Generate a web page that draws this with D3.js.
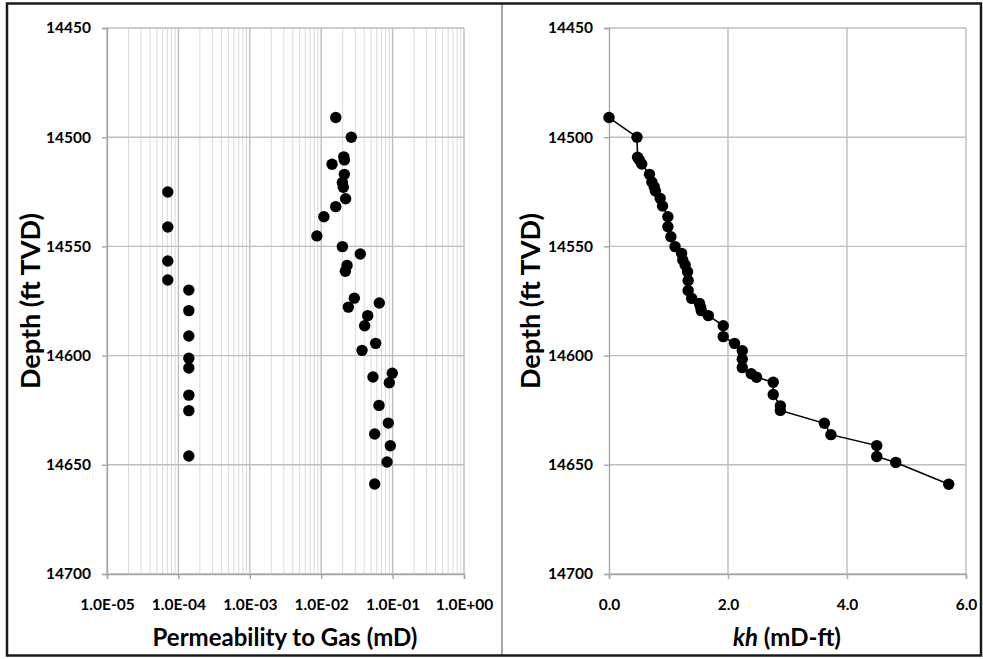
<!DOCTYPE html>
<html>
<head>
<meta charset="utf-8">
<script src="https://cdn.jsdelivr.net/npm/d3@7"></script>
<style>
  body { margin: 0; background: #fff; }
  text { font-family: Lato, "Liberation Sans", sans-serif; font-weight: bold; fill: #000; }
</style>
</head>
<body>
<script>
// depth of each core sample (ft TVD) and its gas permeability (mD)
var permDepth = [14491, 14500, 14509, 14510.4, 14512.4, 14517, 14520.7, 14522.9, 14528.2, 14531.8,
                 14536.4, 14545.2, 14550.1, 14553.5, 14558.7, 14561.4, 14573.7, 14577.8, 14575.9, 14581.7,
                 14586.3, 14594.4, 14597.6, 14609.8, 14608.1, 14612.4, 14622.8, 14630.9, 14635.9, 14641.3,
                 14648.7, 14658.8,
                 14525.1, 14541.1, 14556.7, 14565.4,
                 14570, 14579.4, 14591, 14601.2, 14605.7, 14618.1, 14625.2, 14646];
var permValue = [0.016, 0.0264, 0.0207, 0.0211, 0.0142, 0.0211, 0.0198, 0.0204, 0.022, 0.016,
                 0.0109, 0.0087, 0.0198, 0.0353, 0.023, 0.0218, 0.0291, 0.024, 0.0651, 0.0448,
                 0.0406, 0.0579, 0.0373, 0.0531, 0.099, 0.0899, 0.0645, 0.0871, 0.0561, 0.0929,
                 0.0835, 0.0561,
                 7.1e-5, 7.1e-5, 7.1e-5, 7.1e-5,
                 1.4e-4, 1.4e-4, 1.4e-4, 1.4e-4, 1.4e-4, 1.4e-4, 1.4e-4, 1.4e-4];

// cumulative kh (mD-ft) down the interval
var khDepth = [14491, 14500, 14509.2, 14510.4, 14512.3, 14517, 14520.5, 14522.7, 14524.6, 14528,
               14531.5, 14536.4, 14541, 14545.6, 14550.1, 14553.2, 14556.2, 14558.5, 14561.6, 14565.6,
               14570.2, 14573.8, 14576.1, 14577.9, 14579.4, 14581.7, 14586.3, 14591.3, 14594.4, 14597.8,
               14601.7, 14605.5, 14608.3, 14609.9, 14612.2, 14617.8, 14623, 14625.1, 14631, 14636.2,
               14641.2, 14646.2, 14648.9, 14658.9];
var khValue = [0, 0.47, 0.48, 0.51, 0.55, 0.68, 0.72, 0.76, 0.78, 0.86,
               0.9, 0.99, 0.99, 1.04, 1.11, 1.22, 1.24, 1.28, 1.32, 1.33,
               1.33, 1.39, 1.52, 1.54, 1.55, 1.67, 1.92, 1.92, 2.11, 2.24,
               2.24, 2.24, 2.39, 2.48, 2.76, 2.76, 2.88, 2.88, 3.62, 3.73,
               4.5, 4.5, 4.82, 5.71];

var depthTicks = [14450, 14500, 14550, 14600, 14650, 14700];
var permTicks = [1e-5, 1e-4, 1e-3, 1e-2, 1e-1, 1e0];
var khTicks = [0, 2, 4, 6];

var W = 983, H = 659;
var plotTop = 28, plotBottom = 574;

var svg = d3.select("body").append("svg")
    .attr("width", W)
    .attr("height", H);

// depth increases downward
var y = d3.scaleLinear().domain([14450, 14700]).range([plotTop, plotBottom]);

// ---------- left panel : permeability ----------
var xPerm = d3.scaleLog().domain([1e-5, 1]).range([107, 464]);
var left = svg.append("g");

// minor + major vertical grid
left.selectAll(".vgrid")
    .data(xPerm.ticks())
    .enter().append("line")
    .attr("x1", d => xPerm(d)).attr("x2", d => xPerm(d))
    .attr("y1", plotTop).attr("y2", plotBottom)
    .attr("stroke", d => Math.abs(Math.log10(d) % 1) < 1e-6 ? "#bdbdbd" : "#dadada")
    .attr("stroke-width", d => Math.abs(Math.log10(d) % 1) < 1e-6 ? 1.4 : 1);

drawPanel(left, xPerm, permTicks, function(d) {
  var e = Math.round(Math.log10(d));
  return "1.0E" + (e < 0 ? "-" : "+") + String(Math.abs(e)).padStart(2, "0");
});

left.selectAll(".dot")
    .data(permDepth)
    .enter().append("circle")
    .attr("cx", (d, i) => xPerm(permValue[i]))
    .attr("cy", d => y(d))
    .attr("r", 5.7)
    .attr("fill", "#000");

// ---------- right panel : kh ----------
var xKh = d3.scaleLinear().domain([0, 6]).range([609, 966]);
var right = svg.append("g");

right.selectAll(".vgrid")
    .data(khTicks.slice(1))
    .enter().append("line")
    .attr("x1", d => xKh(d)).attr("x2", d => xKh(d))
    .attr("y1", plotTop).attr("y2", plotBottom)
    .attr("stroke", "#bdbdbd")
    .attr("stroke-width", 1.4);

drawPanel(right, xKh, khTicks, d3.format(".1f"));

var pts = khDepth.map((d, i) => [xKh(khValue[i]), y(d)]);
right.append("path")
    .attr("d", d3.line()(pts))
    .attr("fill", "none")
    .attr("stroke", "#000")
    .attr("stroke-width", 1.6);

right.selectAll(".dot")
    .data(pts)
    .enter().append("circle")
    .attr("cx", d => d[0])
    .attr("cy", d => d[1])
    .attr("r", 5.7)
    .attr("fill", "#000");

// ---------- titles ----------
var mid = (plotTop + plotBottom) / 2;
svg.append("text")
    .attr("transform", "translate(40," + mid + ") rotate(-90)")
    .attr("text-anchor", "middle")
    .style("font-size", "27px")
    .text("Depth (ft TVD)");

svg.append("text")
    .attr("transform", "translate(540," + mid + ") rotate(-90)")
    .attr("text-anchor", "middle")
    .style("font-size", "27px")
    .text("Depth (ft TVD)");

svg.append("text")
    .attr("x", 285).attr("y", 646)
    .attr("text-anchor", "middle")
    .style("font-size", "24px")
    .text("Permeability to Gas (mD)");

var kt = svg.append("text")
    .attr("x", 787).attr("y", 646)
    .attr("text-anchor", "middle")
    .style("font-size", "24px");
kt.append("tspan").style("font-style", "italic").text("kh");
kt.append("tspan").text(" (mD-ft)");

// ---------- frame ----------
svg.append("line")
    .attr("x1", 502).attr("x2", 502)
    .attr("y1", 4).attr("y2", 656)
    .attr("stroke", "#a6a6a6")
    .attr("stroke-width", 2);

svg.append("rect")
    .attr("x", 7).attr("y", 3.5)
    .attr("width", 974).attr("height", 652)
    .attr("fill", "none")
    .attr("stroke", "#1a1a1a")
    .attr("stroke-width", 2.5);

// horizontal grid, axes and tick labels shared by both panels
function drawPanel(g, x, xticks, fmt) {
  var x0 = x.range()[0], x1 = x.range()[1];

  g.selectAll(".hgrid")
      .data(depthTicks)
      .enter().append("line")
      .attr("x1", x0).attr("x2", x1)
      .attr("y1", d => y(d)).attr("y2", d => y(d))
      .attr("stroke", "#bdbdbd")
      .attr("stroke-width", 1.4);

  var ya = g.append("g")
      .attr("transform", "translate(" + x0 + ",0)")
      .call(d3.axisLeft(y).tickValues(depthTicks).tickFormat(d3.format("d"))
        .tickSize(5).tickPadding(11));

  var xa = g.append("g")
      .attr("transform", "translate(0," + plotBottom + ")")
      .call(d3.axisBottom(x).tickValues(xticks).tickFormat(fmt)
        .tickSize(5).tickPadding(20));

  [ya, xa].forEach(function(a) {
    a.select(".domain").attr("stroke", "#a6a6a6").attr("stroke-width", 1.4);
    a.selectAll(".tick line").attr("stroke", "#a6a6a6").attr("stroke-width", 1.4);
    a.selectAll(".tick text").style("font-size", "15.5px").style("font-family", "Lato, sans-serif")
      .style("font-weight", "bold").attr("fill", "#000");
  });
}
</script>
</body>
</html>
